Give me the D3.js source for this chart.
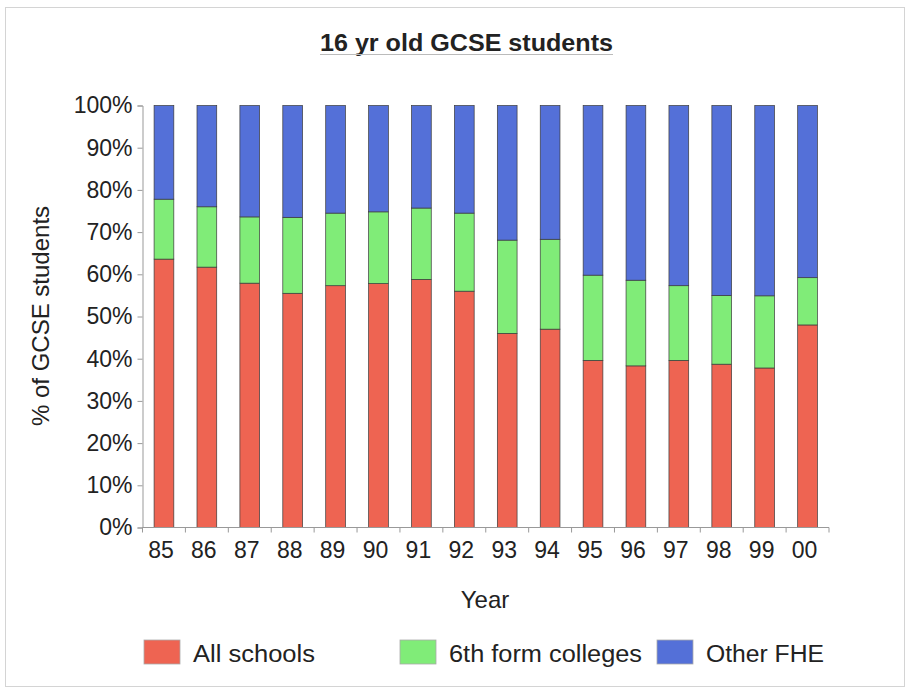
<!DOCTYPE html>
<html>
<head>
<meta charset="utf-8">
<script src="https://cdn.jsdelivr.net/npm/d3@7"></script>
<style>
  html, body { margin: 0; padding: 0; background: #fff; }
  svg { display: block; font-family: Arial, "Liberation Sans", sans-serif; }
</style>
</head>
<body>
<svg id="chart" width="910" height="688"></svg>
<script>
const years = ["85","86","87","88","89","90","91","92","93","94","95","96","97","98","99","00"];
const allSchools = [63.6, 61.7, 57.9, 55.5, 57.3, 57.8, 58.8, 56.0, 46.0, 47.0, 39.6, 38.3, 39.6, 38.7, 37.8, 48.0];
const sixthForm  = [14.2, 14.3, 15.7, 18.0, 17.2, 17.0, 16.9, 18.5, 22.1, 21.3, 20.2, 20.3, 17.7, 16.3, 17.1, 11.2];
const otherFHE   = [22.2, 24.0, 26.4, 26.5, 25.5, 25.2, 24.3, 25.5, 31.9, 31.7, 40.2, 41.4, 42.7, 45.0, 45.1, 40.8];
const seriesNames = ["All schools", "6th form colleges", "Other FHE"];
const seriesColors = ["#EE6452", "#80EC78", "#5470D8"];
const yTicks = [0, 10, 20, 30, 40, 50, 60, 70, 80, 90, 100];

const svg = d3.select("#chart");

// frame
svg.append("rect").attr("x", 5.5).attr("y", 7.5).attr("width", 899).attr("height", 679)
  .attr("fill", "none").attr("stroke", "#d4d4d4");

const plotLeft = 142.5, plotRight = 829, plotTop = 105.5, plotBottom = 527.5;

const x = d3.scaleBand().domain(years).range([plotLeft, plotRight]).paddingInner(0.54).paddingOuter(0.27);
const y = d3.scaleLinear().domain([0, 100]).range([plotBottom, plotTop]);

const rows = years.map((yr, i) => ({ year: yr, a: allSchools[i], b: sixthForm[i], c: otherFHE[i] }));
const stack = d3.stack().keys(["a", "b", "c"]);
const layers = stack(rows);

// bars
svg.append("g").selectAll("g").data(layers).join("g")
  .attr("fill", (d, i) => seriesColors[i])
  .selectAll("rect").data(d => d).join("rect")
  .attr("x", d => x(d.data.year))
  .attr("y", d => y(d[1]))
  .attr("width", x.bandwidth())
  .attr("height", d => y(d[0]) - y(d[1]))
  .attr("stroke", "#3a3a3a").attr("stroke-width", 0.7);

// y axis
const yAxis = d3.axisLeft(y).tickValues(yTicks).tickFormat(d => d + "%").tickSize(5).tickPadding(5);
const gy = svg.append("g").attr("transform", `translate(${plotLeft},0)`).call(yAxis);
gy.select(".domain").attr("stroke", "#999");
gy.selectAll(".tick line").attr("stroke", "#999");
gy.selectAll(".tick text").attr("font-size", 23).attr("fill", "#222").attr("font-family", "Arial, 'Liberation Sans', sans-serif");

// x axis: domain + boundary ticks
const gx = svg.append("g").attr("transform", `translate(0,${plotBottom})`);
gx.append("line").attr("x1", plotLeft).attr("x2", plotRight).attr("stroke", "#999");
const boundaries = d3.range(years.length + 1).map(i => plotLeft + i * (plotRight - plotLeft) / years.length);
gx.selectAll("line.tk").data(boundaries).join("line").attr("class", "tk")
  .attr("x1", d => d).attr("x2", d => d).attr("y1", 0).attr("y2", 5).attr("stroke", "#999");
gx.selectAll("text").data(years).join("text")
  .attr("x", d => x(d) + x.bandwidth() / 2 - 3)
  .attr("y", 30)
  .attr("text-anchor", "middle")
  .attr("font-size", 23).attr("fill", "#222")
  .text(d => d);

// title
svg.append("text").attr("x", 320).attr("y", 51).attr("font-size", 23).attr("font-weight", "bold")
  .attr("fill", "#222").attr("textLength", 293).attr("lengthAdjust", "spacingAndGlyphs")
  .text("16 yr old GCSE students");
svg.append("line").attr("x1", 320).attr("x2", 613).attr("y1", 54.5).attr("y2", 54.5)
  .attr("stroke", "#bbb").attr("stroke-width", 1);

// axis titles
svg.append("text").attr("x", 485).attr("y", 608).attr("text-anchor", "middle")
  .attr("font-size", 24).attr("fill", "#222").text("Year");
svg.append("text").attr("transform", "translate(49,316) rotate(-90)").attr("text-anchor", "middle")
  .attr("font-size", 24).attr("fill", "#222").text("% of GCSE students");

// legend
const legendX = [144, 400, 657];
const legendTextLen = [122, 193, 118];
const lg = svg.append("g").selectAll("g").data(seriesNames).join("g")
  .attr("transform", (d, i) => `translate(${legendX[i]},640)`);
lg.append("rect").attr("width", 36).attr("height", 24)
  .attr("fill", (d, i) => seriesColors[i]).attr("stroke", "#aaa").attr("stroke-width", 0.8);
lg.append("text").attr("x", 49).attr("y", 22).attr("font-size", 23.5).attr("fill", "#222")
  .attr("textLength", (d, i) => legendTextLen[i]).attr("lengthAdjust", "spacingAndGlyphs")
  .text(d => d);
</script>
</body>
</html>
